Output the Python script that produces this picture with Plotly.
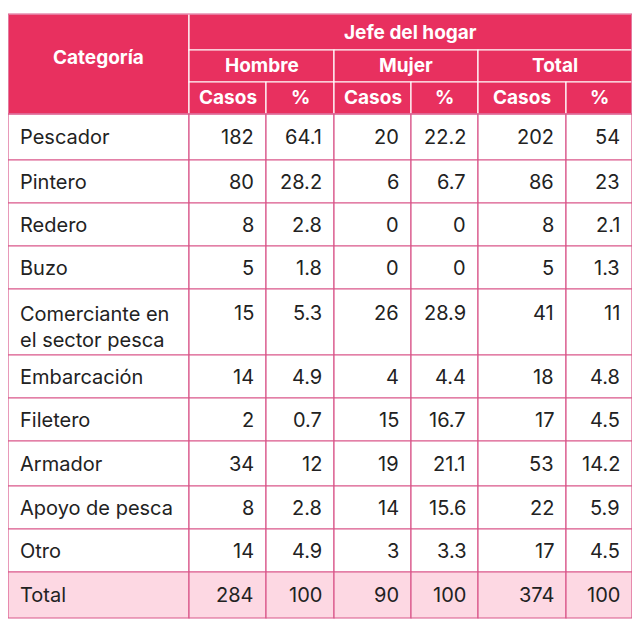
import plotly.graph_objects as go

categories = ["Pescador", "Pintero", "Redero", "Buzo", "Comerciante en<br>el sector pesca",
              "Embarcación", "Filetero", "Armador", "Apoyo de pesca", "Otro", "Total"]
hombre_casos = ["182", "80", "8", "5", "15", "14", "2", "34", "8", "14", "284"]
hombre_pct = ["64.1", "28.2", "2.8", "1.8", "5.3", "4.9", "0.7", "12", "2.8", "4.9", "100"]
mujer_casos = ["20", "6", "0", "0", "26", "4", "15", "19", "14", "3", "90"]
mujer_pct = ["22.2", "6.7", "0", "0", "28.9", "4.4", "16.7", "21.1", "15.6", "3.3", "100"]
total_casos = ["202", "86", "8", "5", "41", "18", "17", "53", "22", "17", "374"]
total_pct = ["54", "23", "2.1", "1.3", "11", "4.8", "4.5", "14.2", "5.9", "4.5", "100"]
groups = ["Hombre", "Mujer", "Total"]
sub_headers = ["Casos", "%"]
super_header = "Jefe del hogar"
first_header = "Categoría"

xs = [8, 189, 266, 334, 411, 478, 566, 632]
hy = [14, 50, 82, 114]
rows_y = [114, 160, 203, 246, 289, 355, 398, 441, 486, 529, 572, 618]

HEAD = "#E8305F"
BORDER = "#D9578A"
TOTALBG = "#FDD8E3"
FONT = "Inter"

fig = go.Figure()
shapes, ann = [], []

def rect(x0, y0, x1, y1, fill, line):
    shapes.append(dict(type="rect", xref="x", yref="y", x0=x0, x1=x1, y0=y0, y1=y1,
                       fillcolor=fill, line=dict(color=line, width=1.2), layer="below"))

def text(x, y, t, anchor="center", bold=False, color="#222", size=20, yanchor="middle"):
    ann.append(dict(x=x, y=y, xref="x", yref="y", text=("<b>%s</b>" % t) if bold else t,
                    showarrow=False, xanchor=anchor, yanchor=yanchor, align="left",
                    font=dict(family=FONT, size=size, color=color)))

W = "#FFFFFF"
rect(xs[0], hy[0], xs[1], hy[3], HEAD, W)
text((xs[0] + xs[1]) / 2, 57, first_header, bold=True, color=W, size=19)
rect(xs[1], hy[0], xs[7], hy[1], HEAD, W)
text((xs[1] + xs[7]) / 2, 32, super_header, bold=True, color=W, size=19)
for g, name in enumerate(groups):
    a, b = xs[1 + 2 * g], xs[3 + 2 * g]
    rect(a, hy[1], b, hy[2], HEAD, W)
    text((a + b) / 2, 65, name, bold=True, color=W, size=19)
    for k in range(2):
        c0, c1 = xs[1 + 2 * g + k], xs[2 + 2 * g + k]
        rect(c0, hy[2], c1, hy[3], HEAD, W)
        text((c0 + c1) / 2, 97, sub_headers[k], bold=True, color=W, size=19)
shapes.append(dict(type="rect", xref="x", yref="y", x0=xs[0], x1=xs[7], y0=hy[0], y1=hy[3],
                   line=dict(color=BORDER, width=1.2)))

cols = [hombre_casos, hombre_pct, mujer_casos, mujer_pct, total_casos, total_pct]
for i, cat in enumerate(categories):
    y0, y1 = rows_y[i], rows_y[i + 1]
    bg = TOTALBG if i == len(categories) - 1 else "#FFFFFF"
    multi = "<br>" in cat
    ty = y0 + 24 if multi else (y0 + y1) / 2
    for c in range(7):
        rect(xs[c], y0, xs[c + 1], y1, bg, BORDER)
    if multi:
        text(xs[0] + 10, y0 + 11, cat, anchor="left", yanchor="top")
    else:
        text(xs[0] + 10, ty, cat, anchor="left")
    for c, col in enumerate(cols):
        text(xs[c + 2] - 10, ty, col[i], anchor="right")

# page body has an 8px default margin, so shift the visible range accordingly
fig.update_layout(width=640, height=630, margin=dict(l=0, r=0, t=0, b=0),
                  plot_bgcolor="white", paper_bgcolor="white",
                  shapes=shapes, annotations=ann, showlegend=False,
                  xaxis=dict(range=[8, 648], visible=False, fixedrange=True),
                  yaxis=dict(range=[638, 8], visible=False, fixedrange=True))
fig.write_html("out.html")
